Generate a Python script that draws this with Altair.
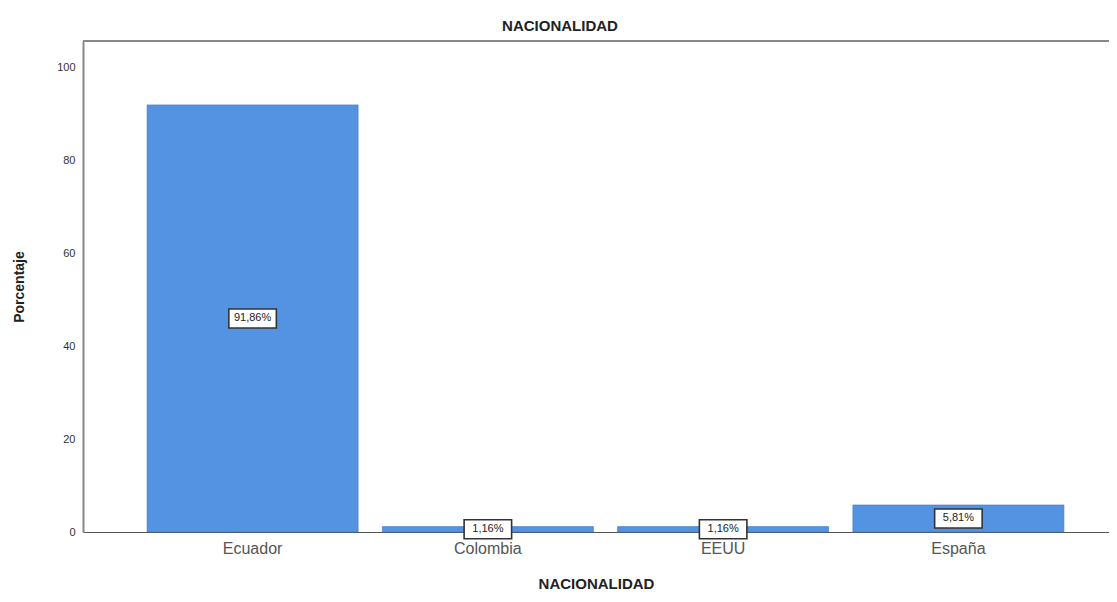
import altair as alt
import pandas as pd

categories = ["Ecuador", "Colombia", "EEUU", "España"]
values = [91.86, 1.16, 1.16, 5.81]
labels = ["91,86%", "1,16%", "1,16%", "5,81%"]

df = pd.DataFrame({"cat": categories, "val": values, "lab": labels})
df["mid"] = df["val"] / 2

W = 1026
H = 491
FONT = "Liberation Sans"

x = alt.X("cat:N", sort=categories,
          scale=alt.Scale(paddingInner=0.103, paddingOuter=0.232, align=0.587),
          axis=alt.Axis(title="NACIONALIDAD", labelAngle=0, ticks=False, domain=True,
                        domainColor="#555", domainWidth=1, labelFontSize=16,
                        labelColor="#555", labelPadding=8, titleFontSize=15,
                        titleFontWeight="bold", titleColor="#222", titlePadding=20,
                        labelFont=FONT, titleFont=FONT))
yscale = alt.Scale(domain=[0, 105.6], nice=False)

base = alt.Chart(df)

bars = base.mark_bar(color="#5393e2", stroke="#3f78c4", strokeWidth=0.6).encode(
    x=x,
    y=alt.Y("val:Q", scale=yscale,
            axis=alt.Axis(title="Porcentaje", values=[0, 20, 40, 60, 80, 100], ticks=False,
                          grid=False, domainColor="#888", domainWidth=2,
                          labelFontSize=11, labelColor="#333", labelPadding=8,
                          titleFontSize=14, titleFontWeight="bold", titleColor="#222",
                          titlePadding=30, labelFont=FONT, titleFont=FONT)),
)

boxes = base.mark_point(
    shape="M-1.25,-0.5H1.25V0.5H-1.25Z", size=1444, filled=True,
    fill="white", stroke="#333", strokeWidth=1.6, opacity=1,
).encode(x=alt.X("cat:N", sort=categories), y=alt.Y("mid:Q", scale=yscale))

texts = base.mark_text(fontSize=11, color="#222", font=FONT).encode(
    x=alt.X("cat:N", sort=categories), y=alt.Y("mid:Q", scale=yscale), text="lab:N"
)

top_rule = alt.Chart(df).mark_rule(color="#888", strokeWidth=2).encode(
    x=alt.value(0), x2=alt.value(W), y=alt.value(0)
)

chart = alt.layer(bars, boxes, texts, top_rule).properties(
    width=W, height=H,
    background="white",
    title=alt.TitleParams("NACIONALIDAD", fontSize=15, fontWeight="bold", color="#222",
                          font=FONT, anchor="middle", dx=-36, offset=6),
    autosize=alt.AutoSizeParams(type="none"),
    padding={"left": 75, "top": 33, "right": 0, "bottom": 62},
).configure_view(stroke=None)

chart.save("out.html", embed_options={"renderer": "svg", "actions": False})
